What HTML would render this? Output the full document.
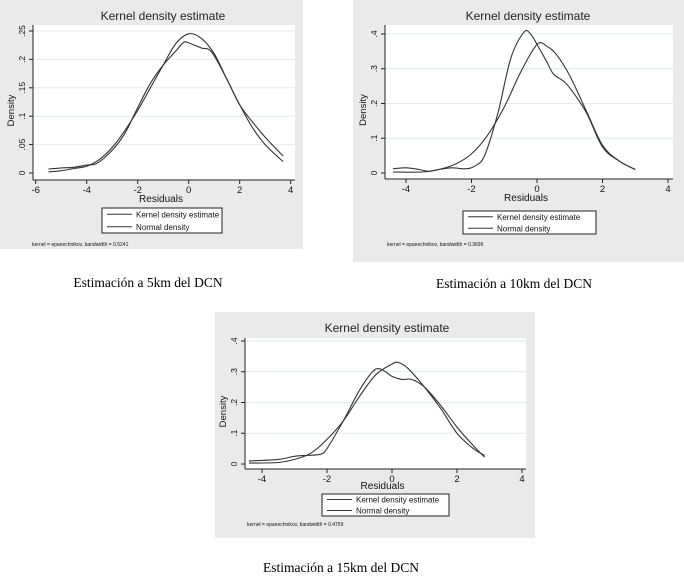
<!DOCTYPE html>
<html><head><meta charset="utf-8"><style>
body{margin:0;background:#fff;width:684px;height:588px;overflow:hidden}
svg{display:block}
</style></head><body>
<svg id="s" width="684" height="588" xmlns="http://www.w3.org/2000/svg" font-family="Liberation Sans, sans-serif">
<text x="148" y="287" font-family="Liberation Serif, serif" font-size="13.5" text-anchor="middle">Estimación a 5km del DCN</text>
<text x="514" y="288" font-family="Liberation Serif, serif" font-size="13.5" text-anchor="middle">Estimación a 10km del DCN</text>
<text x="341" y="572" font-family="Liberation Serif, serif" font-size="13.5" text-anchor="middle">Estimación a 15km del DCN</text>
</svg>
<script>
// Panel 1 data (5km)
const p1NormX=[-5.5,-5,-4.5,-4,-3.5,-3,-2.5,-2,-1.5,-1,-0.5,0,0.5,1,1.5,2,2.5,3,3.7];
const p1NormY=[.002,.004,.008,.012,.024,.045,.075,.11,.15,.19,.228,.245,.237,.21,.165,.12,.08,.05,.02];
const p1KerX=[-5.5,-5,-4.5,-4,-3.6,-3,-2.5,-2,-1.5,-1,-0.5,-0.2,0,0.5,0.9,1.5,2,2.5,3,3.7];
const p1KerY=[.007,.009,.01,.014,.017,.04,.07,.115,.158,.19,.215,.23,.229,.22,.213,.165,.12,.09,.063,.03];
const p1XTicks=[-6,-4,-2,0,2,4];
const p1YTicks=[0,.05,.1,.15,.2,.25];
const p1YLabels=["0",".05",".1",".15",".2",".25"];
// Panel 2 data (10km)
const p2NormX=[-4.4,-3.5,-3,-2.5,-2,-1.5,-1,-0.5,0,0.3,0.6,1,1.5,2,2.5,3];
const p2NormY=[.003,.003,.01,.025,.055,.11,.19,.29,.37,.365,.34,.28,.18,.08,.035,.01];
const p2KerX=[-4.4,-4,-3.6,-3.3,-3,-2.6,-2.2,-1.9,-1.6,-1.2,-0.8,-0.4,-0.2,0,0.3,0.5,0.8,1,1.5,2,2.5,3];
const p2KerY=[.012,.015,.01,.005,.01,.015,.012,.02,.05,.17,.33,.405,.4,.37,.32,.285,.265,.245,.175,.075,.035,.01];
const p2XTicks=[-4,-2,0,2,4];
const p2YTicks=[0,.1,.2,.3,.4];
const p2YLabels=["0",".1",".2",".3",".4"];
// Panel 3 data (15km)
const p3NormX=[-4.4,-3.5,-3,-2.5,-2,-1.5,-1,-0.5,0,0.2,0.5,1,1.5,2,2.5,2.85];
const p3NormY=[.003,.005,.015,.035,.08,.14,.22,.29,.325,.33,.31,.25,.18,.1,.05,.028];
const p3KerX=[-4.4,-3.5,-3,-2.6,-2.2,-2,-1.5,-1,-0.6,-0.4,-0.2,0,0.3,0.6,1,1.5,2,2.5,2.85];
const p3KerY=[.01,.015,.025,.028,.032,.05,.14,.24,.3,.31,.3,.285,.275,.275,.25,.19,.12,.06,.022];
const p3XTicks=[-4,-2,0,2,4];
const p3YTicks=[0,.1,.2,.3,.4];
const p3YLabels=["0",".1",".2",".3",".4"];

const NS="http://www.w3.org/2000/svg";
const svg=document.getElementById('s');
function mk(tag,attrs,parent,txt){const e=document.createElementNS(NS,tag);for(const k in attrs)e.setAttribute(k,attrs[k]);if(txt!==undefined)e.textContent=txt;(parent||svg).appendChild(e);return e;}
function smooth(pts){
  let d='M'+pts[0][0].toFixed(1)+','+pts[0][1].toFixed(1);
  for(let i=0;i<pts.length-1;i++){
    const p0=pts[Math.max(0,i-1)],p1=pts[i],p2=pts[i+1],p3=pts[Math.min(pts.length-1,i+2)];
    const c1=[p1[0]+(p2[0]-p0[0])/6,p1[1]+(p2[1]-p0[1])/6];
    const c2=[p2[0]-(p3[0]-p1[0])/6,p2[1]-(p3[1]-p1[1])/6];
    d+=` C${c1[0].toFixed(1)},${c1[1].toFixed(1)} ${c2[0].toFixed(1)},${c2[1].toFixed(1)} ${p2[0].toFixed(1)},${p2[1].toFixed(1)}`;
  }
  return d;
}

function panel(o){
  const g=mk('g',{});
  
  
  mk('rect',{x:o.bx,y:o.by,width:o.bw,height:o.bh,fill:'#eaeaea'},g);
  const bg=mk('rect',{x:o.px0,y:o.py0,width:o.px1-o.px0,height:o.py1-o.py0,fill:'#fff'},g);
  
  
  const sx=v=>o.x0px+(v-o.xmin)*(o.x1px-o.x0px)/(o.xmax-o.xmin);
  const sy=v=>o.y0px+(v-o.ymin)*(o.y1px-o.y0px)/(o.ymax-o.ymin);
  o.yTicks.forEach((t,i)=>{
    if(i>0){const gl=mk('line',{x1:o.px0,x2:o.px1,y1:sy(t),y2:sy(t),stroke:'#e4ecec','stroke-width':1},g);
    
    }
    mk('line',{x1:o.px0-4,x2:o.px0,y1:sy(t),y2:sy(t),stroke:'#222'},g);
    const tl=mk('text',{x:o.px0-8,y:sy(t),'font-size':8.5,'text-anchor':'middle',transform:`rotate(-90 ${o.px0-8} ${sy(t)})`,fill:'#111'},g,o.yLabels[i]);
    
    
  });
  o.xTicks.forEach(t=>{
    mk('line',{x1:sx(t),x2:sx(t),y1:o.py1,y2:o.py1+4,stroke:'#222'},g);
    const tl=mk('text',{x:sx(t),y:o.py1+13,'font-size':9.5,'text-anchor':'middle',fill:'#111'},g,String(t));
    
    
  });
  mk('line',{x1:o.px0,x2:o.px0,y1:o.py0,y2:o.py1,stroke:'#222'},g);
  mk('line',{x1:o.px0,x2:o.px1,y1:o.py1,y2:o.py1,stroke:'#222'},g);
  const line=(xs,ys,nm)=>{const p=mk('path',{d:smooth(xs.map((x,i)=>[sx(x),sy(ys[i])])),fill:'none',stroke:'#333','stroke-width':1.1,'stroke-linejoin':'round'},g);
    
    };
  line(o.nx,o.ny,'normal-density-line');
  line(o.kx,o.ky,'kernel-density-line');
  const tt=mk('text',{x:o.tx,y:o.ty,'font-size':12,'text-anchor':'middle',fill:'#222'},g,'Kernel density estimate');
  
  
  const xt=mk('text',{x:(o.px0+o.px1)/2-3,y:o.resY,'font-size':10,'text-anchor':'middle',fill:'#111'},g,'Residuals');
  
  
  const yx=o.px0-19,yy=(o.py0+o.py1)/2+8;
  const yt=mk('text',{x:yx,y:yy,'font-size':9.5,'text-anchor':'middle',transform:`rotate(-90 ${yx} ${yy})`,fill:'#111'},g,'Density');
  
  
  const lg=mk('g',{},g);
  
  
  mk('rect',{x:o.lx0,y:o.ly0,width:o.lx1-o.lx0,height:o.ly1-o.ly0,fill:'#fff',stroke:'#222'},lg);
  const lh=(o.ly1-o.ly0)/2;
  [['Kernel density estimate','legend-entry-kernel'],['Normal density','legend-entry-normal']].forEach((e,i)=>{
    const cy=o.ly0+lh*(i+0.5);
    mk('line',{x1:o.lx0+5,x2:o.lx0+30,y1:cy,y2:cy,stroke:'#333'},lg);
    const t=mk('text',{x:o.lx0+34,y:cy+3,'font-size':8,fill:'#111'},lg,e[0]);
    
    
  });
  const nt=mk('text',{x:o.noteX,y:o.noteY,'font-size':5,fill:'#111'},g,'kernel = epanechnikov, bandwidth = '+o.bw_);
  
  
}

panel({name:'panel-5km',bx:0,by:0,bw:303,bh:249,px0:33,px1:295,py0:25,py1:180,
  xmin:-6,xmax:4,x0px:35.7,x1px:290.7,ymin:0,ymax:.25,y0px:173,y1px:31,
  xTicks:p1XTicks,yTicks:p1YTicks,yLabels:p1YLabels,nx:p1NormX,ny:p1NormY,kx:p1KerX,ky:p1KerY,
  tx:163,ty:20,resY:202,lx0:102,lx1:222,ly0:208,ly1:233,noteX:32,noteY:246,bw_:'0.5241'});
panel({name:'panel-10km',bx:353,by:0,bw:331,bh:262,px0:385,px1:673,py0:25,py1:179,
  xmin:-4,xmax:4,x0px:406,x1px:668,ymin:0,ymax:.4,y0px:173,y1px:34,
  xTicks:p2XTicks,yTicks:p2YTicks,yLabels:p2YLabels,nx:p2NormX,ny:p2NormY,kx:p2KerX,ky:p2KerY,
  tx:528,ty:20,resY:201,lx0:463,lx1:596,ly0:211,ly1:234,noteX:387,noteY:246,bw_:'0.3696'});
panel({name:'panel-15km',bx:215,by:312,bw:320,bh:226,px0:245,px1:526,py0:338,py1:469,
  xmin:-4,xmax:4,x0px:262,x1px:522,ymin:0,ymax:.4,y0px:464,y1px:341,
  xTicks:p3XTicks,yTicks:p3YTicks,yLabels:p3YLabels,nx:p3NormX,ny:p3NormY,kx:p3KerX,ky:p3KerY,
  tx:387,ty:332,resY:489,lx0:322,lx1:449,ly0:494,ly1:516,noteX:247,noteY:526,bw_:'0.4759'});
</script>
</body></html>
